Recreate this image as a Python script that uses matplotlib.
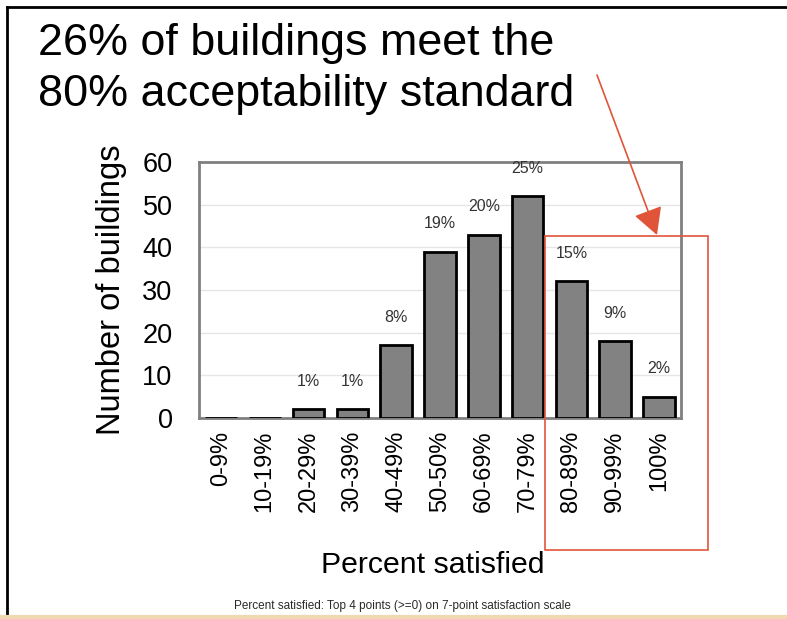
import matplotlib
matplotlib.use("Agg")
import matplotlib.pyplot as plt
from matplotlib.patches import Rectangle, FancyArrowPatch
from matplotlib.lines import Line2D

plt.rcParams['font.family'] = ['Liberation Sans', 'DejaVu Sans']

categories = ["0-9%", "10-19%", "20-29%", "30-39%", "40-49%", "50-50%",
              "60-69%", "70-79%", "80-89%", "90-99%", "100%"]
counts = [0, 0, 2, 2, 17, 39, 43, 52, 32, 18, 5]
pct_labels = ["", "", "1%", "1%", "8%", "19%", "20%", "25%", "15%", "9%", "2%"]
yticks = [0, 10, 20, 30, 40, 50, 60]

W, H = 787, 619
fig = plt.figure(figsize=(W / 100, H / 100), dpi=100)

def fx(x):
    return x / W

def fy(y):
    return 1 - y / H

# axes placement
L, R, T, B = 199, 681, 162, 418
ax = fig.add_axes([fx(L), fy(B), (R - L) / W, (B - T) / H])

x = list(range(len(categories)))
ax.bar(x, counts, width=0.72, color="#828282", edgecolor="black", linewidth=2, zorder=3)
for xi, c, lab in zip(x, counts, pct_labels):
    if lab:
        ax.annotate(lab, (xi, c), xytext=(0, 20), textcoords="offset points",
                    ha="center", va="center", fontsize=11.5, color="#333333")

ax.set_xlim(-0.5, len(categories) - 0.5)
ax.set_ylim(0, 60)
ax.set_yticks(yticks)
ax.set_yticklabels([str(t) for t in yticks], fontsize=19.5)
ax.set_xticks(x)
ax.set_xticklabels(categories, rotation=90, fontsize=17)
ax.tick_params(axis="y", length=0, pad=19)
ax.tick_params(axis="x", length=0, pad=9)
ax.yaxis.grid(True, color="#e6e6e6", linewidth=1, zorder=0)
ax.set_axisbelow(True)
for s in ax.spines.values():
    s.set_color("#808080")
    s.set_linewidth(2)

ax.set_ylabel("Number of buildings", fontsize=23.5)
ax.yaxis.set_label_coords((127 - L) / (R - L), 0.5)

# x label & footnote
fig.text(fx(433), fy(565), "Percent satisfied", fontsize=21.8, ha="center", va="center")
fig.text(fx(402), fy(606), "Percent satisfied: Top 4 points (>=0) on 7-point satisfaction scale",
         fontsize=8.5, ha="center", va="center", color="#2a2a2a")

# title
fig.text(fx(38), fy(55), "26% of buildings meet the", fontsize=32.3, ha="left", va="baseline")
fig.text(fx(38), fy(106), "80% acceptability standard", fontsize=32.3, ha="left", va="baseline")

# red box and arrow
red = "#e0553a"
fig.add_artist(Rectangle((fx(545), fy(550)), (708 - 545) / W, (550 - 236) / H,
                         transform=fig.transFigure, fill=False, edgecolor=red, linewidth=1.2))
fig.add_artist(FancyArrowPatch((fx(597), fy(75)), (fx(657), fy(235)),
                               transform=fig.transFigure, arrowstyle="-|>,head_length=11,head_width=6",
                               color=red, linewidth=1.2, mutation_scale=1.5, shrinkA=0, shrinkB=0))

# frame lines
fig.add_artist(Line2D([fx(7), fx(7)], [0, fy(7)], transform=fig.transFigure, color="black", linewidth=2))
fig.add_artist(Line2D([fx(7), 1], [fy(7), fy(7)], transform=fig.transFigure, color="black", linewidth=2))
fig.add_artist(Line2D([0, 1], [fy(617), fy(617)], transform=fig.transFigure, color="#f0d8b0", linewidth=3))

fig.savefig("out.png", dpi=100)
